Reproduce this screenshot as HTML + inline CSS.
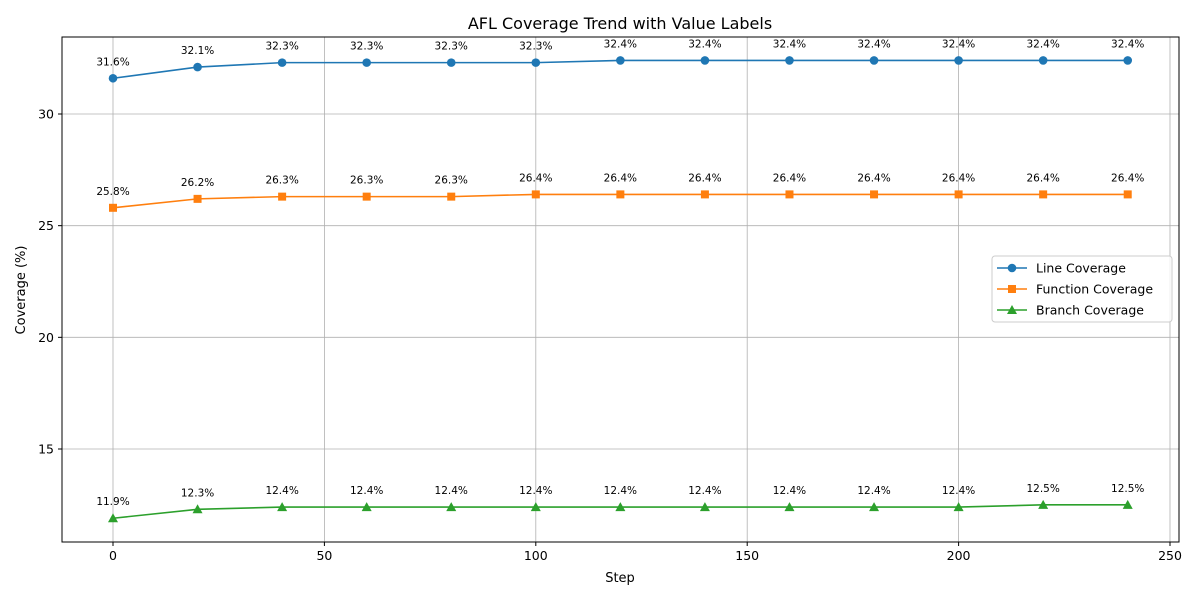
<!DOCTYPE html>
<html><head><meta charset="utf-8"><style>
body{margin:0;background:#fff;font-family:"Liberation Sans","DejaVu Sans",sans-serif;}
svg text{font-family:"DejaVu Sans","Liberation Sans",sans-serif;}
</style></head><body>
<svg id="c" width="1200" height="600" xmlns="http://www.w3.org/2000/svg"></svg>
<script>
const steps=[0,20,40,60,80,100,120,140,160,180,200,220,240];
const lineCov=[31.6,32.1,32.3,32.3,32.3,32.3,32.4,32.4,32.4,32.4,32.4,32.4,32.4];
const funcCov=[25.8,26.2,26.3,26.3,26.3,26.4,26.4,26.4,26.4,26.4,26.4,26.4,26.4];
const branchCov=[11.9,12.3,12.4,12.4,12.4,12.4,12.4,12.4,12.4,12.4,12.4,12.5,12.5];
const xTicks=[0,50,100,150,200,250];
const yTicks=[15,20,25,30];
const L=62,R=1179,T=37,B=542;
const xs=v=>113+v*(1170-113)/250;
const ys=v=>449-(v-15)*(449-114)/15;
const svg=document.getElementById('c');
const NS='http://www.w3.org/2000/svg';
function el(t,a,p){const e=document.createElementNS(NS,t);for(const k in a)e.setAttribute(k,a[k]);(p||svg).appendChild(e);return e;}
function txt(x,y,s,size,anchor,extra){const e=el('text',Object.assign({x:x,y:y,'font-size':size,'text-anchor':anchor||'middle',fill:'#000'},extra||{}));e.textContent=s;return e;}
// grid
xTicks.forEach(v=>{const g=el('line',{x1:xs(v),x2:xs(v),y1:T,y2:B,stroke:'#b0b0b0','stroke-width':0.8});


el('line',{x1:xs(v),x2:xs(v),y1:B,y2:B+4,stroke:'#000'});
const t=txt(xs(v),B+18,String(v),12.5);

});
yTicks.forEach(v=>{const g=el('line',{x1:L,x2:R,y1:ys(v),y2:ys(v),stroke:'#b0b0b0','stroke-width':0.8});


el('line',{x1:L-4,x2:L,y1:ys(v),y2:ys(v),stroke:'#000'});
const t=txt(L-8,ys(v)+4.5,String(v),12.5,'end');

});
const frame=el('rect',{x:L,y:T,width:R-L,height:B-T,fill:'none',stroke:'#000','stroke-width':1});


const series=[{d:lineCov,c:'#1f77b4',m:'circle',n:'line-coverage'},{d:funcCov,c:'#ff7f0e',m:'square',n:'function-coverage'},{d:branchCov,c:'#2ca02c',m:'triangle',n:'branch-coverage'}];
function marker(x,y,m,c){
 if(m==='circle')return el('circle',{cx:x,cy:y,r:4.3,fill:c});
 if(m==='square')return el('rect',{x:x-4,y:y-4,width:8,height:8,fill:c});
 return el('polygon',{points:`${x},${y-5} ${x-5},${y+4} ${x+5},${y+4}`,fill:c});
}
series.forEach(s=>{
 const p=el('polyline',{points:s.d.map((v,i)=>xs(steps[i])+','+ys(v)).join(' '),fill:'none',stroke:s.c,'stroke-width':1.6});
 
 
 s.d.forEach((v,i)=>{const mk=marker(xs(steps[i]),ys(v),s.m,s.c);
 
 
 const t=txt(xs(steps[i]),ys(v)-13,v.toFixed(1)+'%',10.5);
 
 });
});
const title=txt(620,29,'AFL Coverage Trend with Value Labels',16);


const xl=txt(620,582,'Step',13);


const yl=txt(25,290,'Coverage (%)',13,'middle',{transform:'rotate(-90 25 290)'});


const lg=el('g',{});


el('rect',{x:992,y:256,width:180,height:66,rx:3,fill:'#fff','fill-opacity':0.8,stroke:'#ccc'},lg);
const names=['Line Coverage','Function Coverage','Branch Coverage'];
series.forEach((s,i)=>{const y=268+i*21;
 el('line',{x1:997,x2:1027,y1:y,y2:y,stroke:s.c,'stroke-width':1.6},lg);
 const mk=marker(1012,y,s.m,s.c);lg.appendChild(mk);
 const t=el('text',{x:1036,y:y+4.5,'font-size':12.5,fill:'#000'},lg);t.textContent=names[i];
 
 
});
</script>
</body></html>
